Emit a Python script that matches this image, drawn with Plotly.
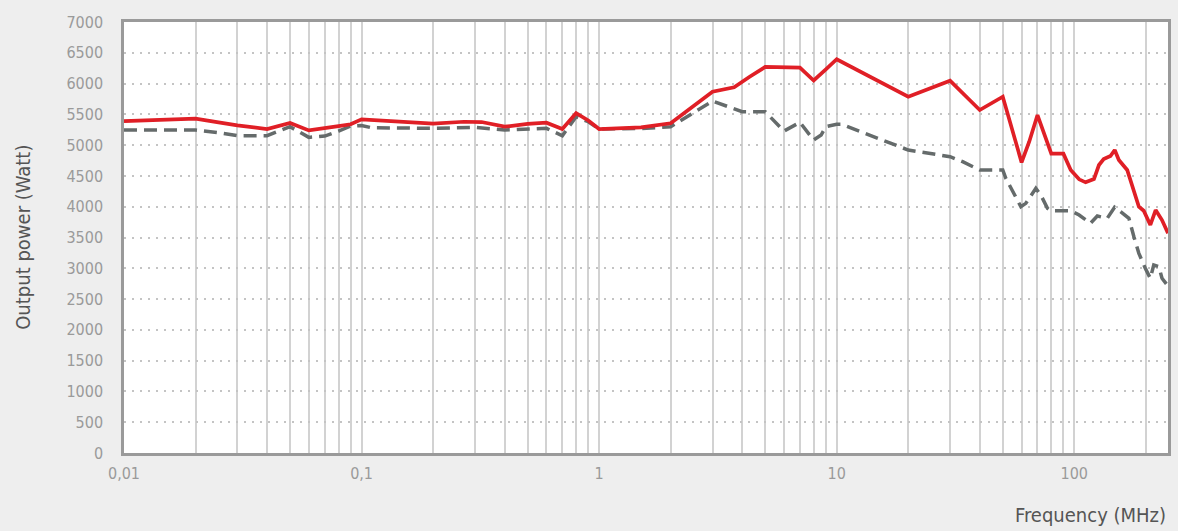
import plotly.graph_objects as go
import math

# ---- data ----
red_freq = [0.01, 0.02, 0.025, 0.03, 0.04, 0.05, 0.06, 0.07, 0.08, 0.09, 0.1, 0.2, 0.27, 0.32,
            0.4, 0.5, 0.6, 0.7, 0.8, 0.9, 1.0, 1.5, 2, 3, 3.7, 4.3, 5, 7, 8, 9, 10, 20, 30, 40, 50,
            60, 64.6, 70, 73.5, 80, 90, 96.6, 104.8, 111.6, 121, 127, 133, 142, 148, 154, 167,
            178, 187, 196, 209, 220, 234, 248]
red_power = [5390, 5430, 5370, 5320, 5262, 5360, 5240, 5285, 5310, 5340, 5420, 5350, 5380, 5375,
             5300, 5345, 5364, 5262, 5520, 5400, 5262, 5290, 5354, 5868, 5940, 6110, 6270, 6260, 6050, 6230, 6395, 5786, 6046, 5570, 5786,
             4720, 5056, 5489, 5246, 4862, 4862, 4596, 4445, 4396, 4450, 4677, 4775, 4823, 4921, 4759, 4596,
             4271, 4000, 3935, 3703, 3946, 3784, 3568]

gray_freq = [0.01, 0.02, 0.025, 0.03, 0.04, 0.05, 0.06, 0.07, 0.08, 0.09, 0.1, 0.11, 0.2, 0.3,
             0.4, 0.5, 0.6, 0.7, 0.8, 0.9, 1.0, 1.5, 2, 3, 4, 5, 6, 7, 8, 8.6, 9, 10, 10.5, 20, 30,
             33.9, 40, 50, 51.5, 59.6, 62.5, 68.9, 72.3, 77.1, 79.6, 96.6, 104.8, 117, 125, 137.6,
             147.8, 156.6, 169.8, 178.2, 187, 199, 209, 216, 227, 234, 246]
gray_power = [5246, 5246, 5202, 5153, 5153, 5299, 5126, 5148, 5229, 5310, 5320, 5283, 5273, 5289,
              5246, 5265, 5273, 5153, 5462, 5380, 5262, 5270, 5300, 5716, 5543, 5543, 5229, 5370, 5083, 5164, 5299, 5338, 5338, 4921, 4813,
              4731, 4596, 4596, 4461, 4000, 4055, 4298, 4190, 3974, 3935, 3935, 3865, 3730, 3849, 3811,
              3990, 3919, 3811, 3513, 3243, 3000, 2837, 3054, 3027, 2837, 2729]

decades = [0.01, 0.1, 1, 10, 100]
decade_labels = ["0,01", "0,1", "1", "10", "100"]
y_ticks = list(range(0, 7001, 500))

x_title = "Frequency (MHz)"
y_title = "Output power (Watt)"

# ---- tick/grid positions ----
tickvals, ticktext = [], []
for d, lab in zip(decades, decade_labels):
    for m in range(1, 10):
        v = d * m
        if v <= 250:
            tickvals.append(v)
            ticktext.append(lab if m == 1 else "")

FONT = "DejaVu Sans Condensed, sans-serif"

fig = go.Figure()
fig.add_trace(go.Scatter(x=gray_freq, y=gray_power, mode="lines",
                         line=dict(color="#656b6b", width=3.5, dash="13px,7px"),
                         showlegend=False))
fig.add_trace(go.Scatter(x=red_freq, y=red_power, mode="lines",
                         line=dict(color="#e01f26", width=3.7),
                         showlegend=False))

fig.update_layout(
    width=1178, height=531,
    margin=dict(l=124, r=7, t=22, b=78),
    paper_bgcolor="#eeeeee", plot_bgcolor="#ffffff",
    font=dict(family=FONT, color="#9a9a9a", size=16),
    xaxis=dict(type="log", range=[-2, math.log10(248)],
               tickmode="array", tickvals=tickvals, ticktext=ticktext,
               showgrid=True, gridcolor="#d2d2d2", gridwidth=1.5,
               showline=True, linecolor="#9a9a9a", linewidth=2.5, mirror=True,
               ticks="", ticklabelstandoff=4,
               tickfont=dict(size=16, color="#9a9a9a", family=FONT),
               zeroline=False),
    yaxis=dict(range=[0, 7000], tickmode="array", tickvals=y_ticks,
               ticktext=[str(v) for v in y_ticks],
               showgrid=True, gridcolor="#c4c4c4", gridwidth=2, griddash="2px,6px",
               showline=True, linecolor="#9a9a9a", linewidth=2.5, mirror=True,
               ticks="", ticklabelstandoff=15,
               tickfont=dict(size=16, color="#9a9a9a", family=FONT),
               zeroline=False),
    annotations=[
        dict(text=x_title, xref="paper", yref="paper", x=1.0, y=(453 - 515) / 431,
             xanchor="right", yanchor="middle", showarrow=False,
             font=dict(size=20, color="#555555", family=FONT)),
        dict(text=y_title, xref="paper", yref="paper", x=(22 - 124) / 1047, y=0.5,
             xanchor="center", yanchor="middle", textangle=-90, showarrow=False,
             font=dict(size=20, color="#555555", family=FONT)),
    ],
)

fig.write_html("out.html", config={"displayModeBar": False},
               post_script="document.body.style.margin='0';document.body.style.background='#eeeeee';document.body.style.overflow='hidden';")
